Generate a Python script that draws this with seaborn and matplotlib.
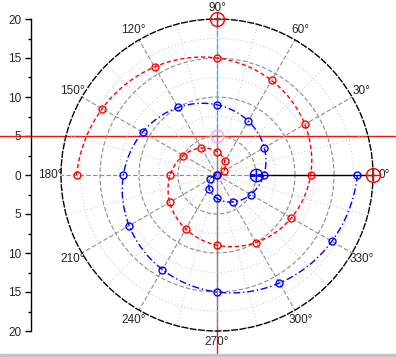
import numpy as np
import pandas as pd
import matplotlib
matplotlib.use("Agg")
import matplotlib.pyplot as plt
import seaborn as sns
from matplotlib.ticker import FixedLocator
from matplotlib.patches import Rectangle

# ---------------- data ----------------
red_theta_deg = [180, 150, 120, 90, 60, 30, 0, -30, -60, -90, -120, -150,
                 -180, -210, -240, -270, -300, -330, -360]
red_r = [18, 17, 16, 15, 14, 13, 12, 11, 10, 9, 8, 7, 6, 5, 4, 3, 2, 1, 0]

blue_theta_deg = [-180, -150, -120, -90, -60, -30, 0, 30, 60, 90, 120, 150,
                  180, 210, 240, 270, 300, 330, 360]
blue_r = [0, 1, 2, 3, 4, 5, 6, 7, 8, 9, 10, 11, 12, 13, 14, 15, 16, 17, 18]

angle_ticks = [0, 30, 60, 90, 120, 150, 180, 210, 240, 270, 300, 330]
angle_labels = ["0°", "30°", "60°", "90°", "120°", "150°", "180°", "210°",
                "240°", "270°", "300°", "330°"]
angle_minor = [15, 45, 75, 105, 135, 165, 195, 225, 255, 285, 315, 345]
r_major = [5, 10, 15]
r_minor = [2.5, 7.5, 12.5, 17.5]
r_max = 20

left_ticks = [-20, -15, -10, -5, 0, 5, 10, 15, 20]
left_labels = ["20", "15", "10", "5", "0", "5", "10", "15", "20"]

# Origin-style axis handles
handle_big_theta = [90, 0]
handle_big_r = [20, 20]
handle_pink_theta, handle_pink_r = 90, 5
handle_blue_theta, handle_blue_r = 0, 5
radial_axis_r = [5, 20]
hline_y = 5

# ---------------- style ----------------
sns.set_theme(style="white")
plt.rcParams["font.family"] = ["Liberation Sans", "DejaVu Sans"]

W, H = 396, 357
fig = plt.figure(figsize=(W / 100, H / 100), dpi=100)
fig.patch.set_facecolor("white")
pos = [61 / W, 26 / H, 312 / W, 312 / H]

# Cartesian helper axes (left scale, cross lines)
axc = fig.add_axes(pos, zorder=0)
axc.set_facecolor("white")
axc.set_xlim(-r_max, r_max)
axc.set_ylim(-r_max, r_max)
for s in ["top", "right", "bottom"]:
    axc.spines[s].set_visible(False)
axc.spines["left"].set_position(("axes", -30 / 312))
axc.spines["left"].set_color("black")
axc.spines["left"].set_linewidth(1)
axc.set_xticks([])
axc.set_yticks(left_ticks)
axc.set_yticklabels(left_labels, fontsize=8.5)
axc.yaxis.set_minor_locator(FixedLocator([v + 2.5 for v in left_ticks[:-1]]))
axc.tick_params(axis="y", which="major", direction="out", length=4, width=1,
                color="black", pad=3, left=True)
axc.tick_params(axis="y", which="minor", direction="out", length=2.5, width=1,
                color="black", left=True)

axc.axhline(hline_y, xmin=-61 / 312, xmax=(W - 61) / 312, color="#ff1010",
            lw=1, clip_on=False, zorder=1)
axc.plot([0, 0], [hline_y, r_max], color="#40e0f0", lw=1, clip_on=False, zorder=1)
axc.plot([0, 0], [-r_max, hline_y], color="#8c6a6a", lw=1, clip_on=False, zorder=1)
axc.plot([0, 0], [-r_max - 3, -r_max], color="#ff1010", lw=1, clip_on=False, zorder=1)

# Polar axes
axp = fig.add_axes(pos, projection="polar", zorder=1)
axp.set_facecolor("none")
axp.set_theta_zero_location("E")

df_red = pd.DataFrame({"theta": np.deg2rad(red_theta_deg), "r": red_r})
df_blue = pd.DataFrame({"theta": np.deg2rad(blue_theta_deg), "r": blue_r})

n_before = len(axp.lines)
sns.lineplot(data=df_red, x="theta", y="r", ax=axp, sort=False, color="red",
             lw=1, linestyle=(0, (3, 2)), marker="o", markersize=5,
             markerfacecolor="none", markeredgecolor="red",
             markeredgewidth=1, zorder=4)
sns.lineplot(data=df_blue, x="theta", y="r", ax=axp, sort=False, color="blue",
             lw=1, linestyle=(0, (5, 2, 1, 2)), marker="o", markersize=5,
             markerfacecolor="none", markeredgecolor="blue",
             markeredgewidth=1, zorder=4)
# draw segments as spiral arcs (interpolated in polar coordinates)
for ln in axp.lines[n_before:]:
    ln.get_path()._interpolation_steps = 40

axp.set_xlabel("")
axp.set_ylabel("")
axp.set_thetamin(0)
axp.set_thetamax(360)
axp.set_ylim(0, r_max)
axp.set_thetagrids(angle_ticks, angle_labels, fontsize=8.5)
axp.set_rgrids(r_major, labels=[""] * len(r_major))
axp.yaxis.set_minor_locator(FixedLocator(r_minor))
axp.xaxis.set_minor_locator(FixedLocator(np.deg2rad(angle_minor)))
axp.grid(which="major", color="#8c8c8c", ls=(0, (4, 2)), lw=0.8)
axp.grid(which="minor", color="#d0d0d0", ls=(0, (1, 2)), lw=0.8)
axp.tick_params(axis="x", which="both", pad=1, length=0)
axp.tick_params(axis="y", which="both", length=0)
axp.spines["polar"].set_color("black")
axp.spines["polar"].set_linestyle((0, (4, 2)))
axp.spines["polar"].set_linewidth(1)

# radial axis line and handles
axp.plot([0, 0], radial_axis_r, color="black", lw=1, zorder=3)
axp.plot(np.deg2rad(handle_big_theta), handle_big_r, ls="none", marker="o",
         ms=10, mfc="none", mec="red", mew=1, clip_on=False, zorder=6)
axp.plot(np.deg2rad(handle_big_theta), handle_big_r, ls="none", marker="+",
         ms=10, mec="red", mew=1, clip_on=False, zorder=6)
axp.plot(np.deg2rad(handle_pink_theta), handle_pink_r, ls="none", marker="o",
         ms=9, mfc="none", mec="#ff9cff", mew=1, zorder=6)
axp.plot(np.deg2rad(handle_blue_theta), handle_blue_r, ls="none", marker="o",
         ms=9, mfc="none", mec="blue", mew=1, zorder=6)
axp.plot(np.deg2rad(handle_blue_theta), handle_blue_r, ls="none", marker="+",
         ms=9, mec="blue", mew=1, zorder=6)

# bottom window strip
fig.patches.append(Rectangle((0, 0), 1, 3 / H, transform=fig.transFigure,
                             color="#c4c4c4", zorder=0))

fig.savefig("out.png", dpi=100)
